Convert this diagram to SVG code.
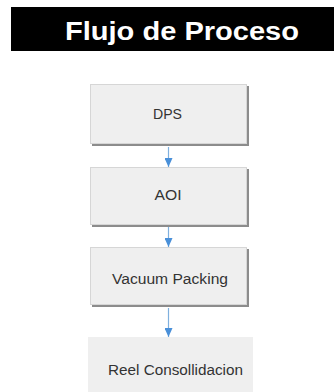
<svg xmlns="http://www.w3.org/2000/svg" width="334" height="392" viewBox="0 0 334 392">
<style>
.box{fill:#efefef;stroke:#d6d6d6;stroke-width:1}
.shadow{fill:#8c8c8c}
.lbl{font-family:"Liberation Sans",Arial,sans-serif;font-size:14px;fill:#333;text-anchor:middle}
.conn{stroke:#7fb0de;stroke-width:1.2;fill:none}
</style>
<defs>
<marker id="ah" viewBox="0 0 10 10" refX="10" refY="5" markerWidth="9" markerHeight="8" markerUnits="userSpaceOnUse" orient="auto" preserveAspectRatio="none">
<path d="M0,0 L10,5 L0,10 Z" fill="#4a90d9"/>
</marker>
</defs>
<g id="title">
<rect x="11" y="7" width="323" height="44" fill="#000"/>
<text x="182" y="40" font-family="'Liberation Sans',Arial,sans-serif" font-weight="bold" font-size="25" fill="#fff" text-anchor="middle" textLength="234" lengthAdjust="spacingAndGlyphs">Flujo de Proceso</text>
</g>
<g id="connectors">
<line class="conn" x1="168.5" y1="147" x2="168.5" y2="167" marker-end="url(#ah)"/>
<line class="conn" x1="168.5" y1="227" x2="168.5" y2="247" marker-end="url(#ah)"/>
<line class="conn" x1="168.5" y1="308" x2="168.5" y2="337" marker-end="url(#ah)"/>
</g>
<g id="dps">
<rect class="shadow" x="92" y="86" width="157" height="60"/>
<rect class="box" x="90.5" y="84.5" width="156" height="59"/>
<text class="lbl" x="167.5" y="119" textLength="29" lengthAdjust="spacingAndGlyphs">DPS</text>
</g>
<g id="aoi">
<rect class="shadow" x="92" y="169" width="157" height="58"/>
<rect class="box" x="90.5" y="167.5" width="156" height="57"/>
<text class="lbl" x="168" y="200" textLength="27" lengthAdjust="spacingAndGlyphs">AOI</text>
</g>
<g id="vacuum">
<rect class="shadow" x="92" y="249" width="157" height="58"/>
<rect class="box" x="90.5" y="247.5" width="156" height="57"/>
<text class="lbl" x="170" y="284" textLength="116" lengthAdjust="spacingAndGlyphs">Vacuum Packing</text>
</g>
<g id="reel">
<rect x="88" y="337" width="165" height="55" fill="#efefef"/>
<text class="lbl" x="175.5" y="375" textLength="135" lengthAdjust="spacingAndGlyphs">Reel Consollidacion</text>
</g>
</svg>
